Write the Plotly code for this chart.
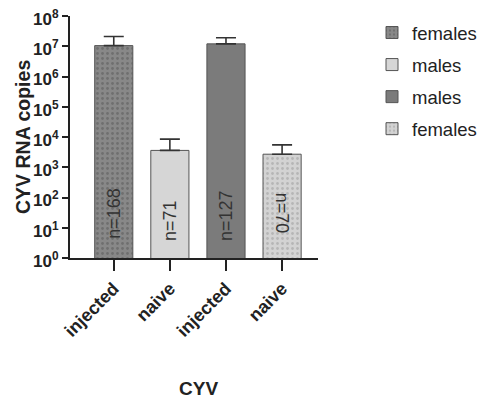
import plotly.graph_objects as go

# Data
tick_labels = ["injected", "naive", "injected", "naive"]
legend_names = ["females", "males", "males", "females"]
means = [1.05e7, 3.6e3, 1.2e7, 2.7e3]
upper = [2.1e7, 8.5e3, 1.9e7, 5.5e3]
n_labels = ["n=168", "n=71", "n=127", "n=70"]
ytick_vals = [1, 10, 100, 1e3, 1e4, 1e5, 1e6, 1e7, 1e8]
ytick_text = ["10<sup>%d</sup>" % i for i in range(9)]

# Styles
fills = ["#888888", "#d6d6d6", "#7b7b7b", "#d3d3d3"]
patterns = [".", "", "", "."]
pat_fg = ["#555555", None, None, "#999999"]
text_angles = [-90, -90, -90, 90]
# annotation positions on a log axis are given in log10 units
label_pos_log = [1.49, 1.25, 1.42, 1.49]

# Page has an 8px body margin; figure is sized to fit inside the window.
W, H = 477, 390
L, T, R, B = 62, 8, 167, 140
PW, PH = W - L - R, H - T - B


def px(xi, yi):
    """image pixel -> paper coords"""
    return (xi - 8 - L) / PW, (H - B - (yi - 8)) / PH


fig = go.Figure()
for i in range(4):
    pat = dict(shape=patterns[i], size=5, solidity=0.25, fgcolor=pat_fg[i], fillmode="overlay") if patterns[i] else dict(shape="")
    fig.add_trace(go.Bar(
        x=[i], y=[means[i]], name=legend_names[i], width=0.68,
        legendgroup="g%d" % i,
        marker=dict(color=fills[i], line=dict(color="#555555", width=1), pattern=pat),
        error_y=dict(type="data", symmetric=False, array=[upper[i] - means[i]], arrayminus=[0],
                     color="#333333", thickness=1.6, width=10),
    ))
    fig.add_annotation(x=i, y=label_pos_log[i], yref="y", xref="x",
                       text=n_labels[i], textangle=text_angles[i], showarrow=False,
                       yanchor="middle", xanchor="center",
                       font=dict(size=18, color="#333333"))

cx, cy = px(198, 388)
fig.add_annotation(x=cx, y=cy, xref="paper", yref="paper", text="<b>CYV</b>", showarrow=False,
                   xanchor="center", yanchor="middle", font=dict(size=19, color="#222222"))
tx, ty = px(23, 137)
fig.add_annotation(x=tx, y=ty, xref="paper", yref="paper", text="<b>CYV RNA copies</b>",
                   showarrow=False, textangle=-90, xanchor="center", yanchor="middle",
                   font=dict(size=19.5, color="#222222"))

lx, ly = px(372, 14)
fig.update_layout(
    width=W, height=H, barmode="overlay",
    margin=dict(l=L, r=R, t=T, b=B, autoexpand=False),
    paper_bgcolor="white", plot_bgcolor="white",
    font=dict(family="Arial, Liberation Sans, sans-serif", color="#222222"),
    showlegend=True,
    legend=dict(x=lx, y=ly, xanchor="left", yanchor="top", font=dict(size=18.5, color="#222222"),
                traceorder="grouped", itemwidth=30, tracegroupgap=5),
)

fig.update_xaxes(
    tickmode="array", tickvals=[0, 1, 2, 3], ticktext=tick_labels, tickangle=-45,
    range=[-0.78, 3.64], showline=True, linecolor="#222222", linewidth=2,
    ticks="outside", ticklen=11, tickwidth=2, tickcolor="#222222", automargin=False,
    tickfont=dict(size=18, weight="bold", color="#222222"), showgrid=False, zeroline=False,
)
fig.update_yaxes(
    type="log", range=[0, 8], tickmode="array", tickvals=ytick_vals, ticktext=ytick_text,
    showline=True, linecolor="#222222", linewidth=2, ticks="outside", ticklen=6, tickwidth=2,
    tickcolor="#222222", tickfont=dict(size=17, weight="bold", color="#222222"),
    showgrid=False, zeroline=False, automargin=False, ticklabeloverflow="allow",
    ticklabelshift=3,
)
fig.write_html("out.html")
